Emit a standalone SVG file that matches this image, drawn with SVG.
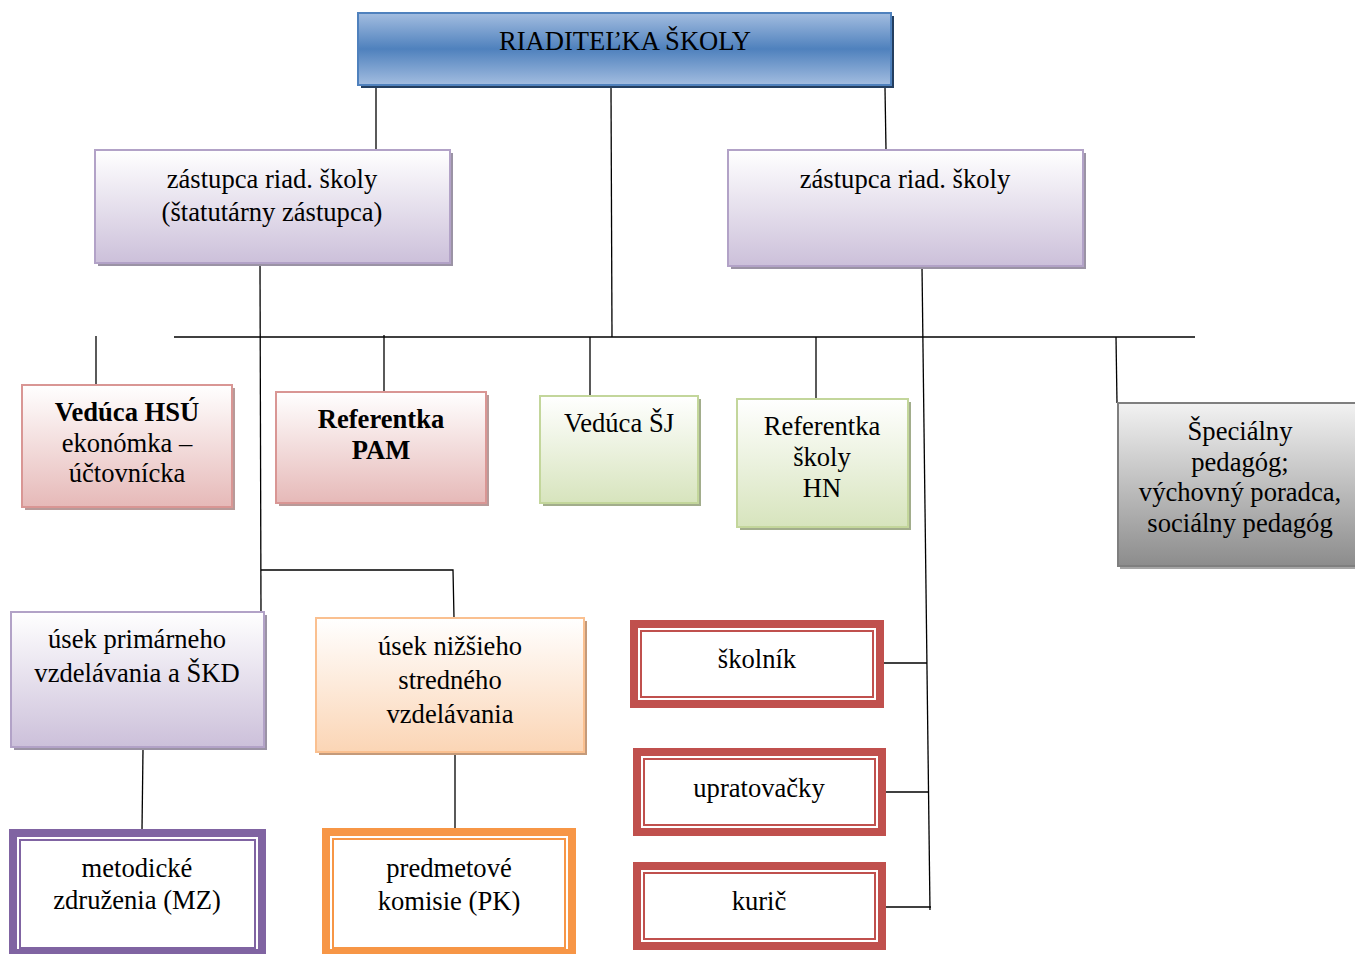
<svg xmlns="http://www.w3.org/2000/svg" width="1355" height="954" viewBox="0 0 1355 954">
<defs>
<linearGradient id="gBlue" x1="0" y1="0" x2="0" y2="1">
<stop offset="0" stop-color="#a3bde0"/><stop offset="0.5" stop-color="#4f81bd"/><stop offset="1" stop-color="#a3bde0"/>
</linearGradient>
<linearGradient id="gLav" x1="0" y1="0" x2="0" y2="1">
<stop offset="0" stop-color="#ffffff"/><stop offset="1" stop-color="#ccc0da"/>
</linearGradient>
<linearGradient id="gPink" x1="0" y1="0" x2="0" y2="1">
<stop offset="0" stop-color="#ffffff"/><stop offset="1" stop-color="#e6b9b8"/>
</linearGradient>
<linearGradient id="gGreen" x1="0" y1="0" x2="0" y2="1">
<stop offset="0" stop-color="#ffffff"/><stop offset="1" stop-color="#d7e4bd"/>
</linearGradient>
<linearGradient id="gGray" x1="0" y1="0" x2="0" y2="1">
<stop offset="0" stop-color="#f2f2f2"/><stop offset="1" stop-color="#8c8c8c"/>
</linearGradient>
<linearGradient id="gOrange" x1="0" y1="0" x2="0" y2="1">
<stop offset="0" stop-color="#ffffff"/><stop offset="1" stop-color="#fbd5b5"/>
</linearGradient>
</defs>
<style>
text{font-family:"Liberation Serif","Times New Roman",Tinos,"DejaVu Serif",serif;font-size:26.6px;fill:#000;text-anchor:middle}
.b{font-weight:bold}
.ln{stroke:#000;stroke-width:1.3;fill:none}
.blue{fill:url(#gBlue);stroke:#4f81bd;stroke-width:2}
.lav{fill:url(#gLav);stroke:#b2a2c7;stroke-width:2}
.pink{fill:url(#gPink);stroke:#d99694;stroke-width:2}
.green{fill:url(#gGreen);stroke:#c3d69b;stroke-width:2}
.gray{fill:url(#gGray);stroke:#7f7f7f;stroke-width:2}
.orng{fill:url(#gOrange);stroke:#fac090;stroke-width:2}
.outer{fill:#fff;stroke-width:8}
.inner{fill:none;stroke-width:2}
.red{stroke:#c0504d}
.pur{stroke:#8064a2}
.org{stroke:#f79646}
</style>

<g id="connectors">
<line class="ln" x1="376" y1="86" x2="376" y2="150"/>
<line class="ln" x1="611" y1="88" x2="612" y2="337"/>
<line class="ln" x1="885" y1="88" x2="886" y2="150"/>
<line class="ln" x1="174" y1="337" x2="1195" y2="337"/>
<line class="ln" x1="96" y1="336" x2="96" y2="385"/>
<line class="ln" x1="384" y1="335" x2="384" y2="392"/>
<line class="ln" x1="590" y1="337" x2="590" y2="397"/>
<line class="ln" x1="816" y1="337" x2="816" y2="399"/>
<line class="ln" x1="1116" y1="337" x2="1117" y2="403"/>
<line class="ln" x1="260" y1="264" x2="261" y2="615"/>
<polyline class="ln" points="261,570 453,570 454,618"/>
<line class="ln" x1="143" y1="750" x2="142" y2="830"/>
<line class="ln" x1="455" y1="753" x2="455" y2="829"/>
<line class="ln" x1="922" y1="267" x2="930" y2="910"/>
<line class="ln" x1="884" y1="663" x2="927" y2="663"/>
<line class="ln" x1="886" y1="792" x2="929" y2="792"/>
<line class="ln" x1="886" y1="907" x2="931" y2="907"/>
</g>

<g id="riaditelka">
<rect x="361" y="16" width="533" height="72" fill="#243f60"/>
<rect class="blue" x="358" y="13" width="533" height="72"/>
<text x="625" y="50">RIADITEĽKA ŠKOLY</text>
</g>

<g id="zastupca1">
<rect x="98" y="153" width="355" height="113" fill="#9b93a5"/>
<rect class="lav" x="95" y="150" width="355" height="113"/>
<text x="272" y="188">zástupca riad. školy</text>
<text x="272" y="221">(štatutárny zástupca)</text>
</g>

<g id="zastupca2">
<rect x="731" y="153" width="355" height="116" fill="#9b93a5"/>
<rect class="lav" x="728" y="150" width="355" height="116"/>
<text x="905" y="188">zástupca riad. školy</text>
</g>

<g id="veduca-hsu">
<rect x="25" y="388" width="210" height="122" fill="#b89a99"/>
<rect class="pink" x="22" y="385" width="210" height="122"/>
<text class="b" x="127" y="421">Vedúca HSÚ</text>
<text x="127" y="452">ekonómka –</text>
<text x="127" y="482">účtovnícka</text>
</g>

<g id="referentka-pam">
<rect x="279" y="395" width="210" height="111" fill="#b89a99"/>
<rect class="pink" x="276" y="392" width="210" height="111"/>
<text class="b" x="381" y="428">Referentka</text>
<text class="b" x="381" y="459">PAM</text>
</g>

<g id="veduca-sj">
<rect x="543" y="399" width="158" height="107" fill="#a2ad8c"/>
<rect class="green" x="540" y="396" width="158" height="107"/>
<text x="619" y="432">Vedúca ŠJ</text>
</g>

<g id="referentka-hn">
<rect x="740" y="402" width="171" height="128" fill="#a2ad8c"/>
<rect class="green" x="737" y="399" width="171" height="128"/>
<text x="822" y="435">Referentka</text>
<text x="822" y="466">školy</text>
<text x="822" y="497">HN</text>
</g>

<g id="specialny">
<rect x="1120" y="406" width="240" height="163" fill="#a6a6a6"/>
<rect class="gray" x="1118" y="403" width="240" height="163"/>
<text x="1240" y="440">Špeciálny</text>
<text x="1240" y="471">pedagóg;</text>
<text x="1240" y="501">výchovný poradca,</text>
<text x="1240" y="532">sociálny pedagóg</text>
</g>

<g id="usek-primarneho">
<rect x="14" y="615" width="253" height="135" fill="#9b93a5"/>
<rect class="lav" x="11" y="612" width="253" height="135"/>
<text x="137" y="648">úsek primárneho</text>
<text x="137" y="682">vzdelávania a ŠKD</text>
</g>

<g id="usek-nizsieho">
<rect x="319" y="621" width="268" height="134" fill="#c49a7a"/>
<rect class="orng" x="316" y="618" width="268" height="134"/>
<text x="450" y="655">úsek nižšieho</text>
<text x="450" y="689">stredného</text>
<text x="450" y="723">vzdelávania</text>
</g>

<g id="skolnik">
<rect class="outer red" x="634" y="624" width="246" height="80"/>
<rect class="inner red" x="641" y="631" width="232" height="66"/>
<text x="757" y="668">školník</text>
</g>

<g id="upratovacky">
<rect class="outer red" x="637" y="752" width="245" height="80"/>
<rect class="inner red" x="644" y="759" width="231" height="66"/>
<text x="759" y="797">upratovačky</text>
</g>

<g id="kuric">
<rect class="outer red" x="637" y="866" width="245" height="80"/>
<rect class="inner red" x="644" y="873" width="231" height="66"/>
<text x="759" y="910">kurič</text>
</g>

<g id="metodicke">
<rect class="outer pur" x="13" y="833" width="249" height="120"/>
<rect class="inner pur" x="20" y="840" width="235" height="108"/>
<text x="137" y="877">metodické</text>
<text x="137" y="909">združenia (MZ)</text>
</g>

<g id="predmetove">
<rect class="outer org" x="326" y="832" width="246" height="121"/>
<rect class="inner org" x="333" y="839" width="232" height="109"/>
<text x="449" y="877">predmetové</text>
<text x="449" y="910">komisie (PK)</text>
</g>
</svg>
